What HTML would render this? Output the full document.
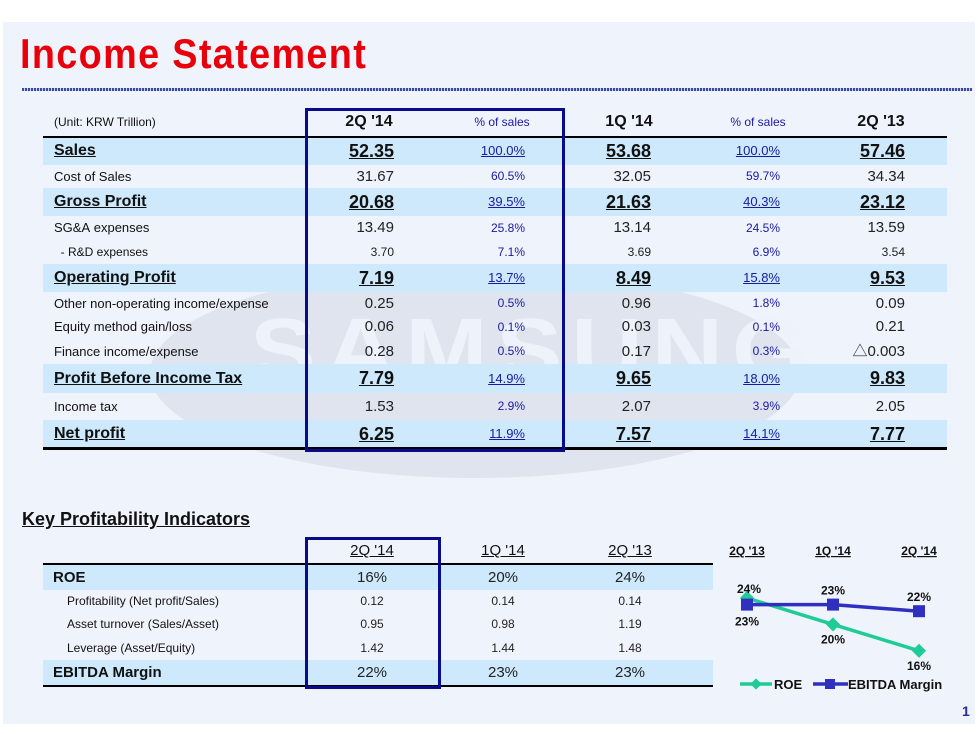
<!DOCTYPE html>
<html><head><meta charset="utf-8">
<style>
body{margin:0;width:978px;height:734px;background:#fff;position:relative;overflow:hidden;font-family:"Liberation Sans","Noto Sans CJK KR",sans-serif;}
.abs{position:absolute}
.panel{left:3px;top:22px;width:972px;height:702px;background:#eff3fb}
.title{left:20px;top:30px;font-size:42px;font-weight:bold;color:#e8000b;transform:scaleX(0.9);transform-origin:left;letter-spacing:1.5px;font-family:"Liberation Sans Narrow","Liberation Sans",sans-serif}
.dots{left:22px;top:88px;width:950px;height:3px;background:repeating-linear-gradient(90deg,#3a4aa0 0 2px,#c8cfe8 2px 3px)}
.row{position:absolute;left:43px;width:904px}
.bg{background:#cde9fb}
.c{position:absolute;top:0;white-space:nowrap}
.lbl{left:11px;font-size:13px;color:#111}
.big{left:11px;font-size:16px;font-weight:bold;text-decoration:underline;color:#111}
.num{font-size:15px;color:#222;text-align:right}
.pct{font-size:12px;color:#1a1aa0;text-align:right}
.pbig{text-decoration:underline;font-size:13px}
.nbig{font-size:18px;font-weight:bold;text-decoration:underline;color:#111}
.hdr{font-size:16px;font-weight:bold;color:#111;text-align:center}
</style></head><body>
<div class="abs panel"></div>
<div class="abs" style="left:150px;top:268px;width:650px;height:210px;border-radius:50%;background:#dfe4ee"></div>
<div class="abs" style="left:250px;top:300px;font-size:90px;font-weight:bold;color:#eef2fa;letter-spacing:8px;transform:scaleX(1.1);transform-origin:left">SAMSUNG</div>
<div class="abs title">Income Statement</div>
<div class="abs dots"></div>

<div id="main"></div>
<div class="abs" style="left:43px;top:136px;width:904px;height:2px;background:#000"></div>
<div class="abs" style="left:43px;top:447px;width:904px;height:3px;background:#000"></div>
<div class="abs" style="left:305px;top:108px;width:254px;height:338px;border:3px solid #0a0a8c"></div>

<div class="abs" style="left:22px;top:509px;font-size:18px;font-weight:bold;text-decoration:underline;color:#111">Key Profitability Indicators</div>
<div id="kpi"></div>
<div class="abs" style="left:43px;top:563px;width:670px;height:2px;background:#000"></div>
<div class="abs" style="left:43px;top:685px;width:670px;height:2px;background:#000"></div>
<div class="abs" style="left:305px;top:537px;width:130px;height:146px;border:3px solid #0a0a8c"></div>

<svg class="abs" style="left:0;top:0" width="978" height="734" id="chart"></svg>
<div class="abs" style="left:962px;top:703px;font-size:14px;font-weight:bold;color:#2a2a9a">1</div>

<script>
const rows=[
 ["(Unit: KRW Trillion)",108,28,"h"],
 ["Sales",137,28,"b",["52.35","100.0%","53.68","100.0%","57.46"]],
 ["Cost of Sales",165,23,"n",["31.67","60.5%","32.05","59.7%","34.34"]],
 ["Gross Profit",188,28,"b",["20.68","39.5%","21.63","40.3%","23.12"]],
 ["SG&A expenses",216,24,"n",["13.49","25.8%","13.14","24.5%","13.59"]],
 ["  - R&D expenses",240,24,"s",["3.70","7.1%","3.69","6.9%","3.54"]],
 ["Operating Profit",264,28,"b",["7.19","13.7%","8.49","15.8%","9.53"]],
 ["Other non-operating income/expense",292,23,"n",["0.25","0.5%","0.96","1.8%","0.09"]],
 ["Equity method gain/loss",315,24,"n",["0.06","0.1%","0.03","0.1%","0.21"]],
 ["Finance income/expense",339,25,"n",["0.28","0.5%","0.17","0.3%","△0.003"]],
 ["Profit Before Income Tax",364,29,"b",["7.79","14.9%","9.65","18.0%","9.83"]],
 ["Income tax",393,27,"n",["1.53","2.9%","2.07","3.9%","2.05"]],
 ["Net profit",420,28,"b",["6.25","11.9%","7.57","14.1%","7.77"]]
];
const rights=[351,482,608,737,862];
const hdrs=[["2Q '14",323,"hdr"],["% of sales",456,"p"],["1Q '14",583,"hdr"],["% of sales",712,"p"],["2Q '13",835,"hdr"]];
const main=document.getElementById('main');
rows.forEach((r,i)=>{
 const d=document.createElement('div');
 d.className='row'+(r[3]==='b'?' bg':'');
 d.style.top=r[1]+'px';d.style.height=r[2]+'px';d.style.lineHeight=r[2]+'px';
 
 
 let h='';
 if(r[3]==='h'){
  h+='<span class="c lbl" style="font-size:12px">'+r[0]+'</span>';
  hdrs.forEach(x=>{h+= x[2]==='hdr'?'<span class="c hdr" style="left:'+(x[1]-40)+'px;width:86px">'+x[0]+'</span>':'<span class="c" style="left:'+(x[1]-40)+'px;width:86px;text-align:center;font-size:12px;color:#1a1aa0">'+x[0]+'</span>'});
 } else {
  const lab=r[0].replace(/ /g,'&nbsp;');
  h+='<span class="c '+(r[3]==='b'?'big':'lbl')+'" style="'+(r[3]==='s'?'font-size:12px;':'')+'">'+lab+'</span>';
  r[4].forEach((v,j)=>{
   const isP=j%2===1;
   let cls=isP?'pct':'num';
   let st='';
   if(r[3]==='b') cls+= isP?' pbig':' nbig';
   if(r[3]==='s'&&!isP) st='font-size:12px;';
   h+='<span class="c '+cls+'" style="left:'+(rights[j]-90)+'px;width:90px;'+st+'">'+v+'</span>';
  });
 }
 d.innerHTML=h;main.appendChild(d);
});

const krows=[
 ["ROE",565,25,"b",["16%","20%","24%"]],
 ["Profitability (Net profit/Sales)",590,23,"s",["0.12","0.14","0.14"]],
 ["Asset turnover (Sales/Asset)",613,23,"s",["0.95","0.98","1.19"]],
 ["Leverage (Asset/Equity)",636,24,"s",["1.42","1.44","1.48"]],
 ["EBITDA Margin",660,25,"b",["22%","23%","23%"]]
];
const kcent=[329,460,587];
const kpi=document.getElementById('kpi');
const kh=document.createElement('div');
kh.className='row';kh.style.top='538px';kh.style.height='25px';kh.style.lineHeight='25px';kh.style.width='670px';


kh.innerHTML=["2Q '14","1Q '14","2Q '13"].map((t,j)=>'<span class="c" style="left:'+(kcent[j]-45)+'px;width:90px;text-align:center;font-size:15px;text-decoration:underline;color:#111">'+t+'</span>').join('');
kpi.appendChild(kh);
krows.forEach(r=>{
 const d=document.createElement('div');
 d.className='row'+(r[3]==='b'?' bg':'');
 d.style.top=r[1]+'px';d.style.height=r[2]+'px';d.style.lineHeight=r[2]+'px';d.style.width='670px';
 
 
 let h='<span class="c" style="left:'+(r[3]==='b'?10:24)+'px;font-size:'+(r[3]==='b'?'15px;font-weight:bold':'12px')+';color:#111">'+r[0]+'</span>';
 r[4].forEach((v,j)=>{h+='<span class="c" style="left:'+(kcent[j]-40)+'px;width:80px;text-align:center;font-size:'+(r[3]==='b'?'15px':'12px')+';color:#222">'+v+'</span>'});
 d.innerHTML=h;kpi.appendChild(d);
});

// chart
const periods=["2Q '13","1Q '14","2Q '14"];
const roe=[24,20,16];
const ebitda=[23,23,22];
const xs=i=>747+i*86;
const ys=v=>598+(24-v)*6.6;
const svg=document.getElementById('chart');
const NS='http://www.w3.org/2000/svg';
function mk(t,a){const e=document.createElementNS(NS,t);for(const k in a)e.setAttribute(k,a[k]);svg.appendChild(e);return e;}
periods.forEach((p,i)=>{const t=mk('text',{x:xs(i),y:555,'text-anchor':'middle','font-size':12,'font-weight':'bold','text-decoration':'underline',fill:'#111'});t.textContent=p;

});
const l1=mk('polyline',{points:roe.map((v,i)=>xs(i)+','+ys(v)).join(' '),fill:'none',stroke:'#1fcc95','stroke-width':3.5});


roe.forEach((v,i)=>{const m=mk('rect',{x:xs(i)-5,y:ys(v)-5,width:10,height:10,fill:'#1fcc95',transform:'rotate(45 '+xs(i)+' '+ys(v)+')'});


const t=mk('text',{x:xs(i)+(i===0?2:0),y:i===0?ys(v)-5:ys(v)+19,'text-anchor':'middle','font-size':12,'font-weight':'bold',fill:'#111'});t.textContent=v+'%';

});
const l2=mk('polyline',{points:ebitda.map((v,i)=>xs(i)+','+ys(v)).join(' '),fill:'none',stroke:'#3030c0','stroke-width':3.5});


ebitda.forEach((v,i)=>{const m=mk('rect',{x:xs(i)-6,y:ys(v)-6,width:12,height:12,fill:'#3030c0'});


const t=mk('text',{x:xs(i),y:i===0?ys(v)+21:ys(v)-10,'text-anchor':'middle','font-size':12,'font-weight':'bold',fill:'#111'});t.textContent=v+'%';

});
// legend
const lg1=mk('line',{x1:740,y1:684,x2:772,y2:684,stroke:'#1fcc95','stroke-width':3.5});


mk('rect',{x:752,y:680,width:8,height:8,fill:'#1fcc95',transform:'rotate(45 756 684)'});
const lt1=mk('text',{x:774,y:689,'font-size':13,'font-weight':'bold',fill:'#111'});lt1.textContent='ROE';


const lg2=mk('line',{x1:813,y1:684,x2:848,y2:684,stroke:'#3030c0','stroke-width':3.5});


mk('rect',{x:825,y:679,width:10,height:10,fill:'#3030c0'});
const lt2=mk('text',{x:848,y:689,'font-size':13,'font-weight':'bold',fill:'#111'});lt2.textContent='EBITDA Margin';


</script>
</body></html>
